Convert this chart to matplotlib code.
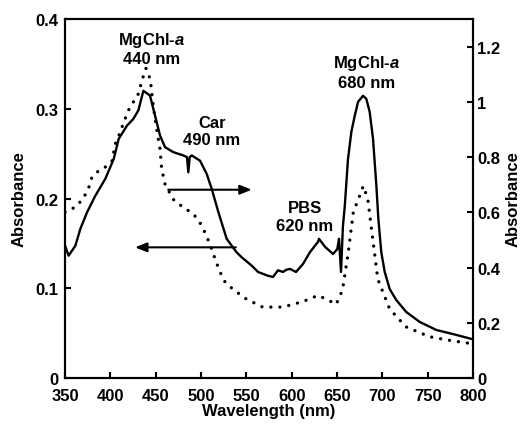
import matplotlib
matplotlib.use("Agg")
import matplotlib.pyplot as plt
from matplotlib.ticker import FuncFormatter

plt.rcParams["font.family"] = ["Liberation Sans", "DejaVu Sans"]
plt.rcParams["font.weight"] = "bold"
plt.rcParams["mathtext.fontset"] = "custom"
plt.rcParams["mathtext.it"] = "Liberation Sans:italic:bold"
plt.rcParams["mathtext.rm"] = "Liberation Sans:bold"

# solid trace (right axis)
wl_solid = [350, 354, 361.4, 366.9, 374.3, 383.4, 394.4, 403.7, 409.2, 418.4,
            425.3, 431, 436.4, 443.7, 449.3, 454.8, 460.3, 469.4, 480.5, 484.5,
            486, 487.5, 489.7, 498.9, 506.3, 511.8, 519.2, 528.3, 539.3, 544.9,
            555.9, 562.9, 568.4, 574, 579.4, 584.9, 590.4, 594, 598.1, 604.8,
            612.5, 620.2, 629, 630.1, 636.8, 645.6, 650.3, 652.2, 654.4, 656.5,
            658.5, 662.1, 665.8, 669.5, 673.2, 678.7, 682.3, 686, 689.7, 693.4,
            695.5, 698.8, 702.6, 708.1, 715.4, 726.4, 741.2, 759.5, 781.6, 800]
abs_solid = [0.48, 0.443, 0.479, 0.54, 0.6, 0.66, 0.721, 0.793, 0.866, 0.914,
             0.938, 0.97, 1.04, 1.023, 0.95, 0.878, 0.836, 0.818, 0.806, 0.80,
             0.745, 0.80, 0.806, 0.787, 0.739, 0.685, 0.6, 0.504, 0.455, 0.437,
             0.407, 0.384, 0.377, 0.37, 0.366, 0.39, 0.384, 0.392, 0.395, 0.384,
             0.413, 0.456, 0.493, 0.504, 0.475, 0.449, 0.467, 0.504, 0.384, 0.55,
             0.62, 0.793, 0.891, 0.949, 1.0, 1.022, 1.011, 0.964, 0.866, 0.696,
             0.58, 0.456, 0.384, 0.322, 0.282, 0.239, 0.203, 0.174, 0.156, 0.14]

# dotted trace (left axis)
wl_dot = [350, 354, 363.2, 370.6, 376.1, 379.8, 387.2, 394.4, 401.8, 405.5,
          411, 414.7, 422, 430, 436, 439.3, 444, 447.4, 451.1, 454.8,
          456.6, 460.3, 469.4, 480.5, 491.5, 498.9, 504.4, 509.9, 515.4, 521,
          526.5, 535, 550, 568, 590, 612, 629, 640, 649, 656,
          662, 668, 675, 679, 684, 688, 695, 708, 726, 752,
          774, 800]
abs_dot = [0.185, 0.186, 0.192, 0.201, 0.212, 0.224, 0.231, 0.235, 0.242, 0.261,
           0.274, 0.285, 0.303, 0.314, 0.335, 0.345, 0.333, 0.303, 0.277, 0.255,
           0.233, 0.216, 0.199, 0.19, 0.183, 0.173, 0.162, 0.149, 0.133, 0.118,
           0.107, 0.099, 0.088, 0.079, 0.079, 0.085, 0.092, 0.087, 0.082, 0.098,
           0.137, 0.185, 0.203, 0.214, 0.199, 0.166, 0.11, 0.077, 0.057, 0.046,
           0.042, 0.038]

fig = plt.figure(figsize=(5.26, 4.27), dpi=100)
ax = fig.add_axes([0.1236, 0.1124, 0.7757, 0.8407])
ax2 = ax.twinx()

ax.plot(wl_dot, abs_dot, color="black", linewidth=2.4,
        linestyle=(0, (0.01, 2.7)), dash_capstyle="round")
ax2.plot(wl_solid, abs_solid, color="black", linewidth=1.7)

ax.set_xlim(350, 800)
ax.set_ylim(0, 0.4)
ax2.set_ylim(0, 1.3)
ax.set_xticks(range(350, 801, 50))
ax.set_yticks([0, 0.1, 0.2, 0.3, 0.4])
ax2.set_yticks([0, 0.2, 0.4, 0.6, 0.8, 1.0, 1.2])
fmt = FuncFormatter(lambda v, p: f"{v:g}")
ax.yaxis.set_major_formatter(fmt)
ax2.yaxis.set_major_formatter(fmt)

for a in (ax, ax2):
    for s in a.spines.values():
        s.set_linewidth(1.5)
    a.tick_params(direction="in", length=4, width=1.5, labelsize=12)
ax.tick_params(axis="x", pad=7)
ax.tick_params(axis="y", pad=5)
ax2.tick_params(axis="y", pad=3)

ax.set_xlabel("Wavelength (nm)", fontsize=12, fontweight="bold", labelpad=0)
ax.set_ylabel("Absorbance", fontsize=12, fontweight="bold", labelpad=6)
ax2.set_ylabel("Absorbance", fontsize=12, fontweight="bold", labelpad=4)

# peak labels
txt = dict(fontsize=12, fontweight="bold", ha="center", va="center", linespacing=1.2)
ax.text(445.6, 0.3675, "MgChl-$\\mathit{a}$\n440 nm", **txt)
ax.text(511.8, 0.2755, "Car\n490 nm", **txt)
ax.text(614.7, 0.18, "PBS\n620 nm", **txt)
ax.text(682.7, 0.3415, "MgChl-$\\mathit{a}$\n680 nm", **txt)

# axis-assignment arrows
arrow = dict(arrowstyle="-|>,head_length=0.7,head_width=0.28", color="black",
             lw=1.5, shrinkA=0, shrinkB=0, mutation_scale=10)
ax.annotate("", xy=(556, 0.2098), xytext=(463.9, 0.2098), arrowprops=arrow)
ax.annotate("", xy=(427.2, 0.1456), xytext=(538.5, 0.1456), arrowprops=arrow)

fig.savefig("out.png", dpi=100)
